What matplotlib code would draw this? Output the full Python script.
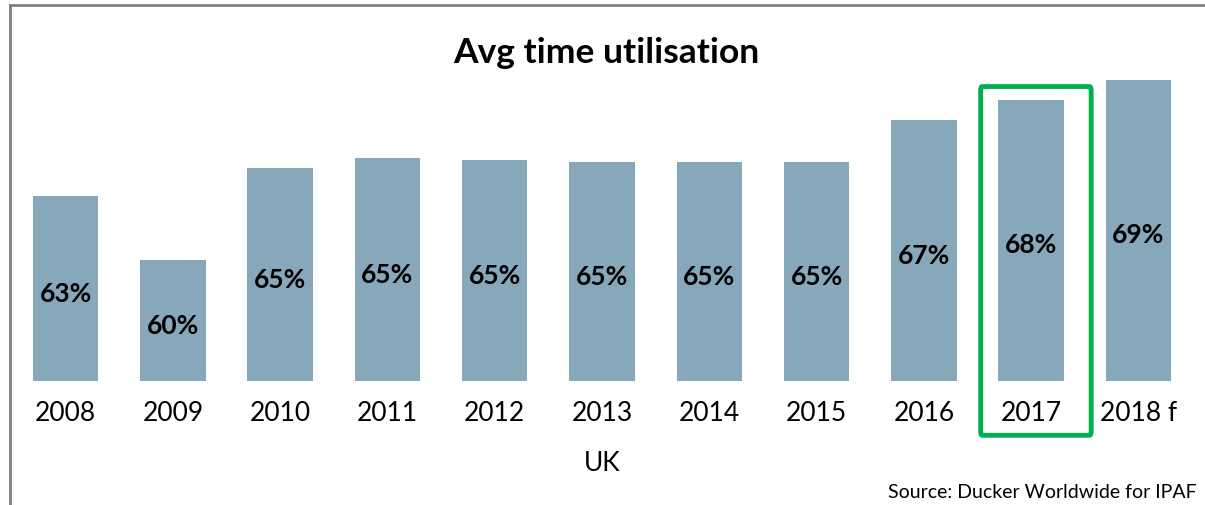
import matplotlib
matplotlib.use("Agg")
import matplotlib.pyplot as plt
from matplotlib.patches import FancyBboxPatch
from matplotlib.lines import Line2D

years = ["2008", "2009", "2010", "2011", "2012", "2013", "2014", "2015", "2016", "2017", "2018 f"]
utilisation = [63.2, 60.0, 64.6, 65.1, 65.0, 64.9, 64.9, 64.9, 67.0, 68.0, 69.0]
highlight_year = "2017"

title = "Avg time utilisation"
xlabel = "UK"
source = "Source: Ducker Worldwide for IPAF"

FONT = ["Lato", "DejaVu Sans"]
plt.rcParams["font.family"] = FONT

fig = plt.figure(figsize=(12.05, 5.06), dpi=100)
W, H = 1205, 506
ax = fig.add_axes([12 / W, 1 - 382 / H, (1192 - 12) / W, (382 - 41) / H])

x = list(range(len(years)))
bars = ax.bar(x, utilisation, width=0.61, color="#87A7BA", bottom=0)
ax.set_xlim(-0.5, len(years) - 0.5)
ax.set_ylim(54.0, 54.0 + 341 / 20.1)

for xi, v in zip(x, utilisation):
    ax.annotate(f"{v:.0f}%", (xi, (54.0 + v) / 2), xytext=(0, -3),
                textcoords="offset points", ha="center", va="center",
                fontsize=19, fontweight="bold", color="black")

ax.set_xticks(x)
ax.set_xticklabels(years, fontsize=19)
ax.tick_params(axis="x", length=0, pad=14)
ax.set_yticks([])
for s in ax.spines.values():
    s.set_visible(False)
ax.set_xlabel(xlabel, fontsize=19, labelpad=18)

fig.text(606 / W, 1 - 53 / H, title, ha="center", va="center",
         fontsize=25.5, fontweight="bold")
fig.text(1197 / W, 1 - 493 / H, source, ha="right", va="center", fontsize=14)

# highlight box around 2017
hi = years.index(highlight_year)
box = FancyBboxPatch((hi - 0.47, 51.3), 1.03, 17.35,
                     boxstyle="round,pad=0,rounding_size=0.015",
                     linewidth=3.5, edgecolor="#00B050", facecolor="none",
                     clip_on=False, transform=ax.transData, mutation_aspect=15)
ax.add_patch(box)

# frame lines
fig.add_artist(Line2D([10 / W, 10 / W], [0, 1 - 6 / H], color="#808080", lw=2))
fig.add_artist(Line2D([10 / W, 1], [1 - 6 / H, 1 - 6 / H], color="#808080", lw=2))

fig.savefig("out.png", dpi=100)
